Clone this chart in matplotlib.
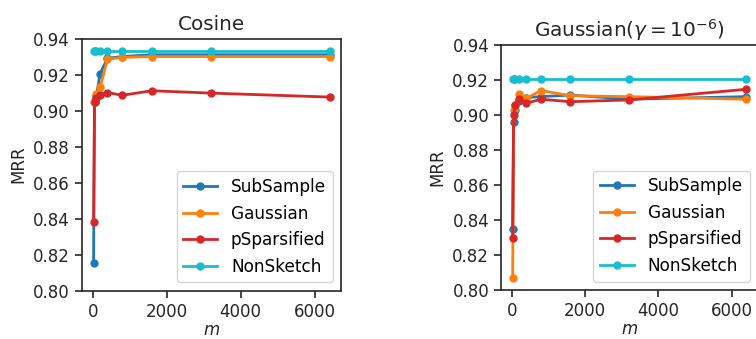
import matplotlib
matplotlib.use("Agg")
import matplotlib.pyplot as plt
import numpy as np

m = [25, 50, 100, 200, 400, 800, 1600, 3200, 6400]
series_names = ["SubSample", "Gaussian", "pSparsified", "NonSketch"]
colors = ["#1f77b4", "#ff7f0e", "#d62728", "#17becf"]

cos_subsample = [0.8156, 0.905, 0.908, 0.9205, 0.929, 0.930, 0.931, 0.931, 0.931]
cos_gaussian = [0.905, 0.906, 0.909, 0.913, 0.9285, 0.9295, 0.930, 0.930, 0.930]
cos_psparsified = [0.838, 0.905, 0.907, 0.9085, 0.910, 0.9085, 0.911, 0.9097, 0.9075]
cos_nonsketch = [0.9333] * 9

gau_subsample = [0.8347, 0.896, 0.903, 0.908, 0.910, 0.9105, 0.9114, 0.909, 0.9105]
gau_gaussian = [0.807, 0.903, 0.906, 0.912, 0.9095, 0.914, 0.911, 0.9105, 0.909]
gau_psparsified = [0.830, 0.900, 0.906, 0.909, 0.9068, 0.909, 0.9076, 0.9086, 0.9147]
gau_nonsketch = [0.9206] * 9

yticks = [0.80, 0.82, 0.84, 0.86, 0.88, 0.90, 0.92, 0.94]
xticks = [0, 2000, 4000, 6000]

W, H = 756, 339
fig = plt.figure(figsize=(W / 100, H / 100), dpi=100)
ax1 = fig.add_axes([81.8 / W, (H - 290.8) / H, 259.5 / W, 252.3 / H])
ax2 = fig.add_axes([501.0 / W, (H - 290.0) / H, 257.0 / W, 245.0 / H])

FS_TICK = 12
FS_LEG = 12.2
FS_TITLE = 14.4

def draw(ax, data, title):
    for name, vals, c in zip(series_names, data, colors):
        ax.plot(m, vals, marker="o", color=c, lw=2.0, ms=5, label=name)
    ax.set_ylim(0.80, 0.94)
    ax.set_yticks(yticks)
    ax.set_yticklabels([f"{v:.2f}" for v in yticks])
    ax.set_xticks(xticks)
    ax.tick_params(labelsize=FS_TICK, width=1.2, length=5, colors="#262626")
    ax.set_ylabel("MRR", fontsize=FS_TICK, color="#262626")
    ax.set_xlabel("$m$", fontsize=FS_TICK, labelpad=0, color="#262626")
    ax.set_title(title, fontsize=FS_TITLE, color="#262626")
    for s in ax.spines.values():
        s.set_linewidth(1.2)
        s.set_color("#262626")
    ax.legend(loc="lower right", fontsize=FS_LEG)

draw(ax1, [cos_subsample, cos_gaussian, cos_psparsified, cos_nonsketch], "Cosine")
draw(ax2, [gau_subsample, gau_gaussian, gau_psparsified, gau_nonsketch], r"Gaussian($\gamma = 10^{-6}$)")

fig.savefig("out.png", dpi=100)
